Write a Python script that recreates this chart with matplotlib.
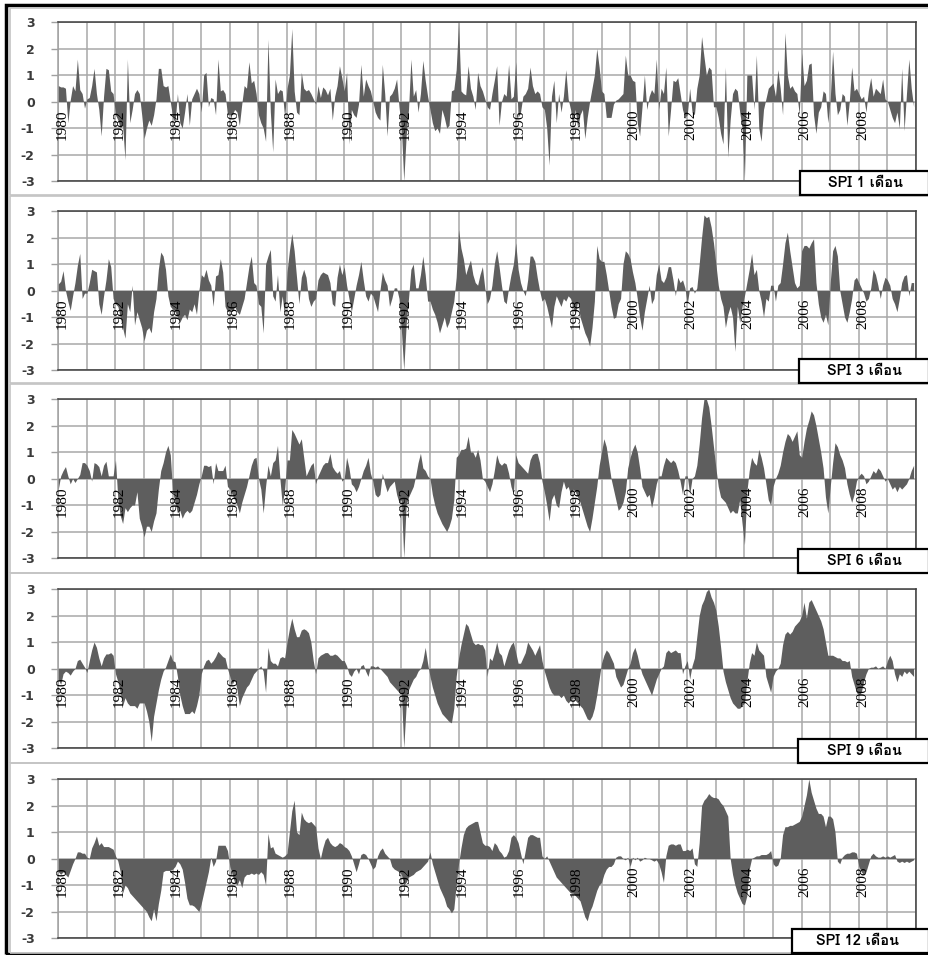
import numpy as np
import matplotlib
matplotlib.use("Agg")
import matplotlib.pyplot as plt
from matplotlib.patches import Rectangle
from matplotlib import font_manager
from matplotlib.ft2font import FT2Font

# monthly SPI values, one row of 12 months per year 1980-2009
spi1 = [
    [0.6, 0.55, 0.55, 0.5, -0.8, 0.05, 0.6, 0.4, 1.6, 0.45, 0.3, -0.25],
    [0.1, 0.15, 0.6, 1.25, 0.3, -0.3, -1.3, 0.2, 1.25, 1.2, 0.4, 0.3],
    [-0.5, -0.7, -1.0, -0.9, -2.2, 1.6, -0.8, -0.3, 0.3, 0.45, 0.3, -0.5],
    [-1.4, -1.0, -0.7, -0.9, -0.5, 0.1, 1.25, 1.25, 0.6, 0.55, 0.6, 0.0],
    [-0.6, -0.8, 0.3, -0.8, -1.0, -0.4, 0.3, -0.9, 0.1, 0.3, 0.5, 0.3],
    [-0.4, 1.0, 1.1, -0.2, 0.15, 0.1, -0.5, 1.6, 0.4, 0.45, 0.3, -0.5],
    [-0.5, -0.5, -0.3, -0.4, -0.9, -0.1, 0.6, 0.5, 1.5, 0.7, 0.8, 0.3],
    [-0.5, -0.8, -1.0, -1.5, 2.35, -0.4, -1.9, 0.85, 0.3, 0.45, 0.4, -0.6],
    [0.5, 1.0, 2.75, 0.4, -0.4, -0.5, 1.1, 0.5, 0.4, 0.45, 0.3, 0.1],
    [-0.1, 0.6, 0.15, 0.55, 0.45, 0.25, 0.5, -0.7, 0.2, 0.6, 1.35, 0.9],
    [0.4, 1.1, -1.6, -0.3, -0.5, -0.6, -0.1, 1.4, 0.2, 0.85, 0.6, 0.4],
    [0.0, -0.4, -0.6, -0.7, 1.4, 0.3, -1.3, 0.2, 0.3, 0.5, 0.85, -0.2],
    [-1.0, -3.0, -1.3, -0.3, 1.6, 0.2, 0.45, -0.4, 0.3, 1.55, 0.8, 0.2],
    [-0.3, -0.8, -1.1, -1.0, -1.2, -0.3, -0.6, -1.0, -0.9, 0.4, 0.45, 1.2],
    [3.0, 0.4, 0.3, 0.25, 1.35, 0.5, 0.2, -0.3, 1.1, 0.6, 0.4, 0.1],
    [-0.2, -0.3, 0.3, 0.8, 1.35, -0.9, 0.0, 0.3, 0.2, 1.4, 0.1, 0.2],
    [1.5, -0.6, -0.4, 0.2, 0.3, 0.5, 1.3, 0.6, 0.3, 0.4, 0.3, -0.2],
    [-0.3, -1.0, -2.4, 0.2, 0.8, -0.8, 0.3, -0.4, 0.2, 1.2, 0.1, -0.3],
    [-0.9, -0.3, -1.0, -0.5, -0.3, -1.4, -0.6, 0.0, 0.5, 1.0, 2.0, 1.3],
    [0.4, 0.3, -0.6, -0.6, -0.6, -0.1, 0.05, 0.1, 0.2, 0.3, 1.75, 1.0],
    [1.0, 0.8, 0.75, -0.8, -1.3, -0.2, 1.0, -0.3, 0.2, 0.45, 0.3, 1.6],
    [-0.3, 0.5, 0.3, 1.3, -1.3, -0.3, 0.8, 0.75, 0.9, 0.3, -0.3, -0.6],
    [-0.5, 0.5, -0.4, -0.5, 0.5, 1.0, 2.45, 1.7, 1.0, 1.3, 1.2, -0.2],
    [-0.2, -0.6, -1.2, -1.6, 1.3, -2.1, -0.7, 0.3, 0.5, 0.4, -0.4, -1.0],
    [-2.9, 1.0, 1.0, 1.0, -0.3, 1.75, -1.0, -1.5, -0.3, 0.1, 0.5, 0.6],
    [0.7, 0.2, 1.2, 0.5, -0.5, 2.6, 1.0, 0.5, 0.6, 0.4, 0.3, -0.5],
    [1.85, 0.6, 0.8, 1.4, 1.45, -0.5, -1.2, -0.4, -0.2, 0.4, 0.3, -0.8],
    [0.1, 1.9, 0.3, -0.5, -0.3, 0.3, 0.2, -0.9, 0.0, 1.3, 0.4, 0.5],
    [0.3, 0.1, 0.2, -0.4, 0.4, 0.9, 0.2, 0.5, 0.4, 0.3, 0.85, 0.1],
    [0.0, -0.3, -0.6, -0.8, -0.4, -1.0, 1.25, -1.1, 0.3, 1.6, 0.5, -0.2],
]

spi3 = [
    [0.25, 0.35, 0.75, 0.0, -0.4, -0.75, -0.2, 0.3, 0.95, 1.4, -0.3, -0.1],
    [-0.1, 0.3, 0.8, 0.75, 0.7, -0.5, -0.9, -0.2, 0.4, 1.2, 0.9, -0.3],
    [-0.5, -0.6, -1.0, -1.4, -1.8, -0.5, -0.8, 0.2, -1.3, -0.8, -1.1, -1.4],
    [-1.9, -1.5, -1.4, -1.6, -0.8, -0.3, 0.8, 1.45, 1.3, 0.8, -0.2, -0.6],
    [-0.7, -0.8, -1.0, -1.2, -1.0, -0.9, -1.1, -0.7, -0.8, -0.5, -0.9, 0.0],
    [0.6, 0.5, 0.8, 0.4, 0.2, -0.6, 0.55, 0.6, 1.2, 0.7, -0.6, -0.8],
    [-0.7, -0.8, -0.6, -0.8, -0.9, -0.6, -0.3, 0.3, 0.9, 1.3, 0.3, 0.2],
    [-0.5, -0.6, -1.6, 1.0, 1.3, 1.55, -0.2, -0.4, 0.6, -0.8, -0.2, -1.0],
    [0.7, 1.5, 2.15, 1.5, 0.5, -0.5, 0.5, 0.8, 0.5, -0.3, -0.6, -0.4],
    [-0.3, 0.4, 0.6, 0.7, 0.65, 0.6, 0.3, -0.5, -0.6, 0.5, 1.0, 0.6],
    [0.9, 0.2, -0.3, -0.8, -0.3, 0.2, 0.6, 1.1, 0.4, -0.2, -0.4, -0.1],
    [-0.2, -0.5, -0.8, 0.0, 0.7, 0.4, 0.2, -0.6, -0.3, 0.1, 0.1, -0.3],
    [-1.5, -3.0, -1.3, -0.3, 0.8, 1.0, 0.1, 0.1, 0.6, 1.3, 0.6, -0.4],
    [-0.4, -0.7, -0.9, -1.2, -1.6, -1.3, -1.0, -1.4, -1.2, -0.8, -0.4, 0.5],
    [2.3, 1.6, 1.2, 0.6, 0.9, 1.15, 0.6, 0.3, 0.2, 0.6, 0.9, 0.1],
    [-0.5, -0.3, 0.2, 1.0, 1.5, 0.9, 0.2, -0.4, -0.5, 0.1, 0.6, 1.0],
    [1.8, 0.8, 0.3, 0.0, -0.2, 0.4, 1.3, 1.3, 1.1, 0.5, 0.0, -0.4],
    [-0.3, -0.6, -1.0, -1.4, -0.6, -0.2, -0.4, -0.6, -0.3, -0.4, -0.2, -0.3],
    [-0.6, -0.9, -0.4, -1.0, -1.3, -1.6, -1.8, -2.1, -1.4, -0.4, 1.7, 1.2],
    [1.1, 1.1, 0.6, 0.0, -0.6, -1.05, -1.0, -0.5, -0.3, 1.0, 1.5, 1.4],
    [1.2, 0.7, 0.3, -0.3, -1.0, -1.5, -0.8, -0.3, 0.2, -0.5, -0.3, 0.6],
    [1.0, 0.4, 0.3, 0.5, 0.9, 0.9, 0.4, -0.2, 0.5, 0.3, 0.4, 0.1],
    [-0.5, 0.1, 0.15, -0.1, 0.1, 1.0, 2.0, 2.85, 2.75, 2.8, 2.4, 1.8],
    [1.0, 0.2, -0.3, -0.6, -1.4, -0.9, -0.6, -1.0, -2.3, -0.6, -1.2, -0.6],
    [-0.2, 0.3, 0.8, 1.4, 0.6, 0.8, 0.0, -0.4, -1.0, -0.3, -0.4, 0.2],
    [0.2, -0.4, 0.2, 0.3, 1.0, 1.8, 2.2, 1.5, 0.9, 0.3, 0.1, 0.2],
    [1.5, 1.7, 1.7, 1.6, 1.8, 1.95, 0.3, -0.5, -1.0, -1.2, -0.9, -1.3],
    [0.3, 1.5, 1.7, 1.3, 0.0, -0.5, -1.0, -1.2, -0.8, -0.3, 0.4, 0.5],
    [0.3, 0.1, -0.1, -0.4, -0.3, 0.1, 0.8, 0.6, 0.2, -0.3, 0.2, 0.5],
    [0.4, 0.2, -0.3, -0.5, -0.8, -0.3, 0.3, 0.55, 0.6, -0.2, 0.3, 0.3],
]

spi6 = [
    [-0.4, 0.1, 0.3, 0.45, 0.1, -0.2, 0.0, -0.15, 0.0, 0.15, 0.6, 0.6],
    [0.5, 0.3, -0.1, 0.6, 0.55, 0.45, 0.1, 0.5, 0.65, 0.1, 0.1, 0.1],
    [0.7, -0.8, -1.4, -1.7, -1.1, -1.25, -1.1, -1.0, -1.0, -0.5, -1.5, -1.8],
    [-2.2, -1.8, -1.8, -2.0, -1.6, -1.3, -0.4, 0.3, 0.6, 1.0, 1.25, 0.9],
    [-0.5, -0.9, -1.3, -1.2, -1.5, -1.3, -1.2, -1.3, -1.2, -0.9, -0.6, -0.2],
    [0.1, 0.5, 0.5, 0.45, 0.5, -0.2, 0.6, 0.3, 0.3, 0.3, 0.5, -0.3],
    [-0.4, -0.6, -0.8, -1.0, -1.3, -0.9, -0.6, -0.3, 0.1, 0.5, 0.75, 0.8],
    [0.0, -0.4, -1.3, -0.3, 0.5, 0.1, 0.6, 0.7, 1.25, 0.0, -1.0, -0.4],
    [0.7, 0.7, 1.85, 1.7, 1.5, 1.3, 1.5, 0.8, 0.1, 0.3, 0.5, 0.6],
    [-0.2, 0.1, 0.3, 0.5, 0.6, 0.6, 0.95, 0.45, 0.3, 0.2, 0.3, -0.1],
    [0.0, 0.8, 0.4, -0.2, -0.3, -0.5, -0.3, 0.0, 0.3, 0.5, 0.8, 0.2],
    [-0.1, -0.6, -0.7, -0.6, 0.2, -0.2, -0.5, -0.3, -0.2, -0.1, -0.6, -0.9],
    [-0.8, -3.0, -1.0, -0.7, -0.5, -0.3, 0.1, 0.6, 0.95, 0.4, 0.3, 0.1],
    [0.0, -0.6, -1.0, -1.3, -1.5, -1.7, -1.85, -2.0, -1.8, -1.5, -0.8, 0.8],
    [0.9, 1.1, 1.1, 1.15, 1.6, 1.0, 1.0, 0.8, 1.1, 0.7, 0.0, -0.1],
    [-0.3, -0.5, -0.2, 0.3, 0.9, 0.6, 0.5, 0.6, 0.55, 0.2, -0.3, -0.6],
    [0.9, 0.6, 0.5, 0.4, 0.3, 0.2, 0.7, 0.9, 0.95, 0.95, 0.6, -0.1],
    [-0.5, -1.0, -1.6, -0.8, -0.6, -1.0, -1.1, -0.5, -0.1, -0.4, -0.3, -0.6],
    [-0.4, -0.5, -0.7, -0.9, -1.2, -1.5, -1.8, -2.0, -1.5, -0.9, -0.3, 0.5],
    [1.0, 1.5, 1.2, 0.6, 0.0, -0.4, -0.8, -1.2, -1.1, -0.9, -0.5, 0.4],
    [0.8, 1.1, 1.3, 1.0, 0.4, -0.3, -0.5, -0.7, -0.6, -1.1, -0.7, -0.2],
    [0.1, 0.1, 0.5, 0.8, 0.7, 0.6, 0.7, 0.6, 0.3, -0.1, -0.6, 0.1],
    [0.1, -0.6, 0.0, 0.1, 0.5, 1.3, 2.3, 3.0, 3.0, 2.7, 2.0, 1.2],
    [0.4, -0.3, -0.7, -0.8, -0.9, -1.1, -1.3, -1.2, -1.3, -1.3, -0.8, -1.7],
    [-2.5, -0.5, 0.3, 0.8, 0.6, 0.5, 1.1, 0.8, 0.4, -0.2, -0.8, -1.0],
    [-0.3, 0.0, 0.2, 0.5, 1.0, 1.4, 1.7, 1.6, 1.4, 1.6, 1.8, 0.9],
    [0.8, 1.4, 1.9, 2.2, 2.55, 2.4, 2.0, 1.5, 1.0, 0.4, -0.7, -1.3],
    [-0.3, 0.6, 1.35, 1.2, 0.9, 0.7, 0.4, -0.2, -0.6, -0.9, -0.6, -0.1],
    [0.1, 0.2, 0.1, -0.2, -0.1, 0.1, 0.3, 0.2, 0.4, 0.3, 0.1, -0.1],
    [0.0, -0.2, -0.4, -0.3, -0.5, -0.3, -0.4, -0.3, -0.2, 0.0, 0.3, 0.5],
]

spi9 = [
    [-0.4, -0.6, -0.2, -0.1, -0.15, -0.25, -0.1, 0.0, 0.3, 0.35, 0.2, 0.05],
    [-0.15, 0.3, 0.7, 1.0, 0.8, 0.4, 0.1, 0.4, 0.55, 0.55, 0.6, 0.5],
    [-0.2, -0.5, -0.9, -1.4, -1.1, -1.3, -1.4, -1.4, -1.4, -1.5, -1.3, -1.3],
    [-1.3, -1.6, -2.0, -2.75, -1.8, -1.3, -0.8, -0.4, -0.1, 0.05, 0.3, 0.55],
    [0.3, 0.25, -0.3, -1.0, -1.4, -1.7, -1.7, -1.7, -1.6, -1.7, -1.4, -1.0],
    [-0.2, 0.1, 0.3, 0.35, 0.2, 0.3, 0.45, 0.65, 0.55, 0.45, 0.4, 0.0],
    [-0.3, -0.6, -0.4, -0.8, -1.4, -1.1, -0.9, -0.7, -0.6, -0.4, -0.2, -0.1],
    [0.0, 0.1, -0.1, -0.9, 0.8, 0.3, 0.2, 0.2, 0.1, 0.4, 0.45, 0.4],
    [1.0, 1.5, 1.9, 1.5, 1.2, 1.2, 1.45, 1.5, 1.45, 1.35, 1.0, 0.3],
    [-0.2, 0.4, 0.5, 0.55, 0.6, 0.6, 0.5, 0.5, 0.55, 0.5, 0.4, 0.3],
    [0.3, 0.1, -0.2, -0.3, -0.1, 0.0, -0.2, 0.1, 0.15, -0.1, -0.3, 0.1],
    [0.1, 0.05, 0.1, 0.0, -0.1, -0.2, -0.3, -0.5, -0.6, -0.7, -0.8, -0.9],
    [-0.9, -3.0, -1.4, -0.8, -0.6, -0.4, -0.3, -0.1, 0.0, 0.3, 0.8, 0.2],
    [-0.3, -0.7, -1.0, -1.3, -1.5, -1.7, -1.8, -1.9, -2.0, -2.05, -1.5, -0.3],
    [0.4, 0.9, 1.3, 1.7, 1.6, 1.3, 1.0, 0.9, 0.95, 0.9, 0.9, 0.7],
    [-0.3, 0.4, 0.3, 0.6, 1.0, 0.6, 0.5, 0.1, 0.4, 0.7, 0.9, 1.0],
    [0.6, 0.2, 0.2, 0.4, 0.6, 1.0, 0.85, 0.7, 0.5, 0.7, 0.9, 0.3],
    [-0.1, -0.4, -0.7, -0.9, -1.0, -1.0, -1.0, -1.1, -1.0, -1.2, -1.3, -1.2],
    [-1.1, -1.2, -1.3, -1.4, -1.5, -1.7, -1.9, -1.95, -1.8, -1.5, -1.0, -0.4],
    [0.2, 0.5, 0.7, 0.6, 0.4, 0.2, -0.3, -0.5, -0.7, -0.6, -0.3, 0.0],
    [0.2, 0.6, 0.8, 0.5, 0.1, -0.2, -0.4, -0.6, -0.8, -1.0, -0.7, -0.4],
    [-0.2, 0.0, 0.1, 0.6, 0.7, 0.6, 0.65, 0.7, 0.6, 0.6, -0.2, 0.1],
    [0.3, -0.4, 0.1, 0.4, 1.2, 2.0, 2.4, 2.6, 2.9, 3.0, 2.7, 2.5],
    [2.2, 1.6, 0.8, -0.1, -0.5, -0.8, -1.1, -1.3, -1.4, -1.5, -1.5, -1.4],
    [-1.3, -0.5, 0.2, 0.6, 0.5, 1.0, 0.7, 0.6, 0.5, -0.3, -0.6, -0.9],
    [-0.3, -0.1, 0.0, 0.2, 0.9, 1.3, 1.4, 1.3, 1.4, 1.6, 1.7, 1.8],
    [2.0, 2.5, 1.9, 2.5, 2.6, 2.4, 2.2, 2.0, 1.8, 1.5, 1.0, 0.5],
    [0.5, 0.5, 0.45, 0.4, 0.4, 0.3, 0.3, 0.25, 0.3, -0.3, -0.6, -0.9],
    [-1.0, -0.9, -0.5, -0.2, 0.0, 0.05, 0.05, 0.1, 0.0, 0.05, 0.1, 0.0],
    [0.3, 0.5, 0.3, -0.2, -0.5, -0.2, -0.3, -0.1, -0.2, -0.1, -0.2, -0.3],
]

spi12 = [
    [-0.5, -0.6, -0.5, -0.6, -0.7, -0.45, -0.2, 0.0, 0.25, 0.25, 0.2, 0.2],
    [0.05, 0.0, 0.4, 0.6, 0.85, 0.5, 0.6, 0.45, 0.45, 0.45, 0.4, 0.35],
    [0.1, -0.1, -0.5, -1.3, -1.0, -1.1, -1.3, -1.4, -1.5, -1.6, -1.7, -1.8],
    [-1.9, -2.0, -2.2, -2.35, -1.9, -2.35, -1.7, -1.2, -0.5, -0.45, -0.45, -0.45],
    [-0.4, -0.3, -0.1, -0.2, -0.4, -0.9, -1.5, -1.75, -1.75, -1.8, -1.9, -2.0],
    [-1.7, -1.3, -0.9, -0.5, 0.05, -0.3, -0.1, 0.5, 0.5, 0.5, 0.5, 0.3],
    [-0.3, -0.6, -0.9, -1.0, -0.8, -1.1, -0.7, -0.6, -0.6, -0.55, -0.6, -0.55],
    [-0.6, -0.5, -0.6, -1.0, 0.95, 0.4, 0.45, 0.2, 0.15, 0.1, 0.05, 0.1],
    [0.2, 1.0, 1.8, 2.2, 1.0, 0.9, 1.75, 1.5, 1.4, 1.35, 1.4, 1.3],
    [1.2, 0.4, 0.0, 0.4, 0.7, 0.8, 0.6, 0.5, 0.45, 0.5, 0.6, 0.55],
    [0.45, 0.4, 0.3, 0.1, -0.2, -0.5, -0.2, 0.15, 0.2, 0.15, 0.0, -0.2],
    [-0.4, -0.3, 0.1, 0.3, 0.4, 0.2, 0.1, 0.0, -0.3, -0.4, -0.45, -0.5],
    [-0.6, -1.0, -0.9, -0.7, -0.65, -0.6, -0.5, -0.45, -0.4, -0.3, -0.2, -0.1],
    [0.25, -0.2, -0.5, -0.8, -1.1, -1.3, -1.5, -1.8, -1.9, -2.05, -1.9, -1.0],
    [-0.2, 0.4, 0.9, 1.15, 1.25, 1.3, 1.35, 1.4, 1.4, 1.0, 0.6, 0.5],
    [0.5, 0.45, 0.3, 0.6, 0.5, 0.3, 0.2, 0.05, 0.1, 0.3, 0.8, 0.9],
    [0.8, 0.6, 0.2, -0.2, 0.3, 0.8, 0.9, 0.9, 0.85, 0.8, 0.8, 0.1],
    [0.0, 0.1, -0.1, -0.3, -0.5, -0.7, -0.8, -0.9, -1.0, -1.1, -1.2, -1.3],
    [-1.3, -1.4, -1.5, -1.6, -1.9, -2.2, -2.35, -2.0, -1.8, -1.5, -1.2, -1.0],
    [-0.9, -0.6, -0.4, -0.3, -0.3, -0.2, 0.05, 0.1, 0.1, 0.0, -0.05, 0.05],
    [-0.3, 0.05, -0.05, 0.05, -0.1, -0.05, 0.05, 0.0, 0.0, -0.05, -0.1, -0.05],
    [-0.2, -0.5, -0.9, 0.1, 0.5, 0.55, 0.55, 0.5, 0.55, 0.55, 0.3, 0.3],
    [0.35, 0.3, 0.4, -0.2, -0.3, 0.6, 2.0, 2.2, 2.3, 2.45, 2.35, 2.3],
    [2.3, 2.25, 2.1, 2.0, 1.8, 1.6, 0.0, -0.6, -1.0, -1.3, -1.5, -1.7],
    [-1.75, -1.4, -0.4, 0.0, 0.05, 0.1, 0.1, 0.15, 0.15, 0.15, 0.2, 0.3],
    [-0.2, -0.3, -0.25, 0.0, 0.9, 1.2, 1.2, 1.25, 1.25, 1.3, 1.35, 1.4],
    [1.6, 2.0, 2.4, 3.0, 2.5, 2.2, 1.9, 1.7, 1.7, 1.6, 1.2, 1.6],
    [1.6, 1.5, 1.0, -0.1, -0.2, 0.05, 0.15, 0.2, 0.2, 0.25, 0.25, 0.2],
    [-0.3, -0.5, -0.6, -0.5, -0.2, 0.1, 0.2, 0.1, 0.05, 0.05, 0.1, 0.05],
    [0.1, 0.05, 0.1, 0.15, -0.1, -0.15, -0.1, -0.15, -0.1, -0.15, -0.1, -0.05],
]

panel_names = ["SPI 1 เดือน", "SPI 3 เดือน", "SPI 6 เดือน", "SPI 9 เดือน", "SPI 12 เดือน"]
label_years = list(range(1980, 2010, 2))
yticks = [-3, -2, -1, 0, 1, 2, 3]


def thai_font():
    # look for any installed font that has Thai glyphs
    found = []
    for f in font_manager.fontManager.ttflist:
        try:
            if ord("เ") in FT2Font(f.fname).get_charmap():
                found.append(f)
        except Exception:
            pass
    for f in found:
        if f.weight in ("bold", 700):
            return f.name
    return found[0].name if found else None


W, H = 929, 955
fig = plt.figure(figsize=(W / 100, H / 100), dpi=100)
fig.patch.set_facecolor("white")


def fx(x):
    return x / W


def fy(y):
    return 1 - y / H


thai = thai_font()
label_family = [thai, "DejaVu Sans"] if thai else ["DejaVu Sans"]

# outer frame
fig.add_artist(Rectangle((fx(6.5), fy(953.5)), fx(940) - fx(6.5), fy(5) - fy(953.5),
                         transform=fig.transFigure, fill=False, ec="black", lw=2.5))

panel_tops = [8, 196, 384, 573, 763]
panel_bottoms = [195, 383, 573, 763, 953]
plot_tops = [22, 211, 399, 589, 779]
plot_h = 159
plot_left, plot_right = 58.3, 916

series = [spi1, spi3, spi6, spi9, spi12]
box_lefts = [800, 799, 798, 798, 792]

for k, data in enumerate(series):
    vals = np.array(data).ravel()
    months = np.arange(len(vals))

    # light panel box
    fig.add_artist(Rectangle((fx(10), fy(panel_bottoms[k])), fx(940) - fx(10),
                             fy(panel_tops[k]) - fy(panel_bottoms[k]),
                             transform=fig.transFigure, fill=False, ec="#c4c4c4", lw=1.2))

    ax = fig.add_axes([fx(plot_left), fy(plot_tops[k] + plot_h),
                       fx(plot_right) - fx(plot_left), plot_h / H])
    ax.fill_between(months, vals, 0, color="#5e5e5e", lw=0, zorder=3)
    ax.set_xlim(0, 360)
    ax.set_ylim(-3, 3)

    ax.set_xticks(range(0, 361, 12))
    ax.set_xticklabels([])
    ax.tick_params(axis="x", length=0)
    ax.set_yticks(yticks)
    ax.set_yticklabels([str(t) for t in yticks], fontsize=9, fontweight="bold",
                       color="#3a3a3a", family="DejaVu Sans")
    ax.tick_params(axis="y", length=5, width=1, color="#a0a0a0", pad=12)
    ax.grid(True, color="#a8a8a8", lw=1.1, zorder=1)
    ax.set_axisbelow(True)

    for side in ["top", "bottom", "right"]:
        ax.spines[side].set_color("#3c3c3c")
        ax.spines[side].set_linewidth(1.1)
    ax.spines["left"].set_color("#a0a0a0")
    ax.spines["left"].set_linewidth(1.1)

    for yr in label_years:
        i = (yr - 1980) * 12
        ax.text(i + 1.5, -0.3, str(yr), rotation=90, ha="center", va="top",
                fontsize=11, family="Liberation Serif", color="black", zorder=5)

    # name box at bottom right of each panel
    bl = box_lefts[k]
    bb = panel_bottoms[k]
    fig.add_artist(Rectangle((fx(bl), fy(bb)), fx(929) - fx(bl), fy(bb - 24) - fy(bb),
                             transform=fig.transFigure, fc="white", ec="black", lw=1.6,
                             zorder=10))
    fig.text(fx(bl + 66), fy(bb - 12), panel_names[k], ha="center", va="center",
             fontsize=10.5, fontweight="bold", family=label_family, zorder=11)

fig.savefig("out.png", dpi=100)
